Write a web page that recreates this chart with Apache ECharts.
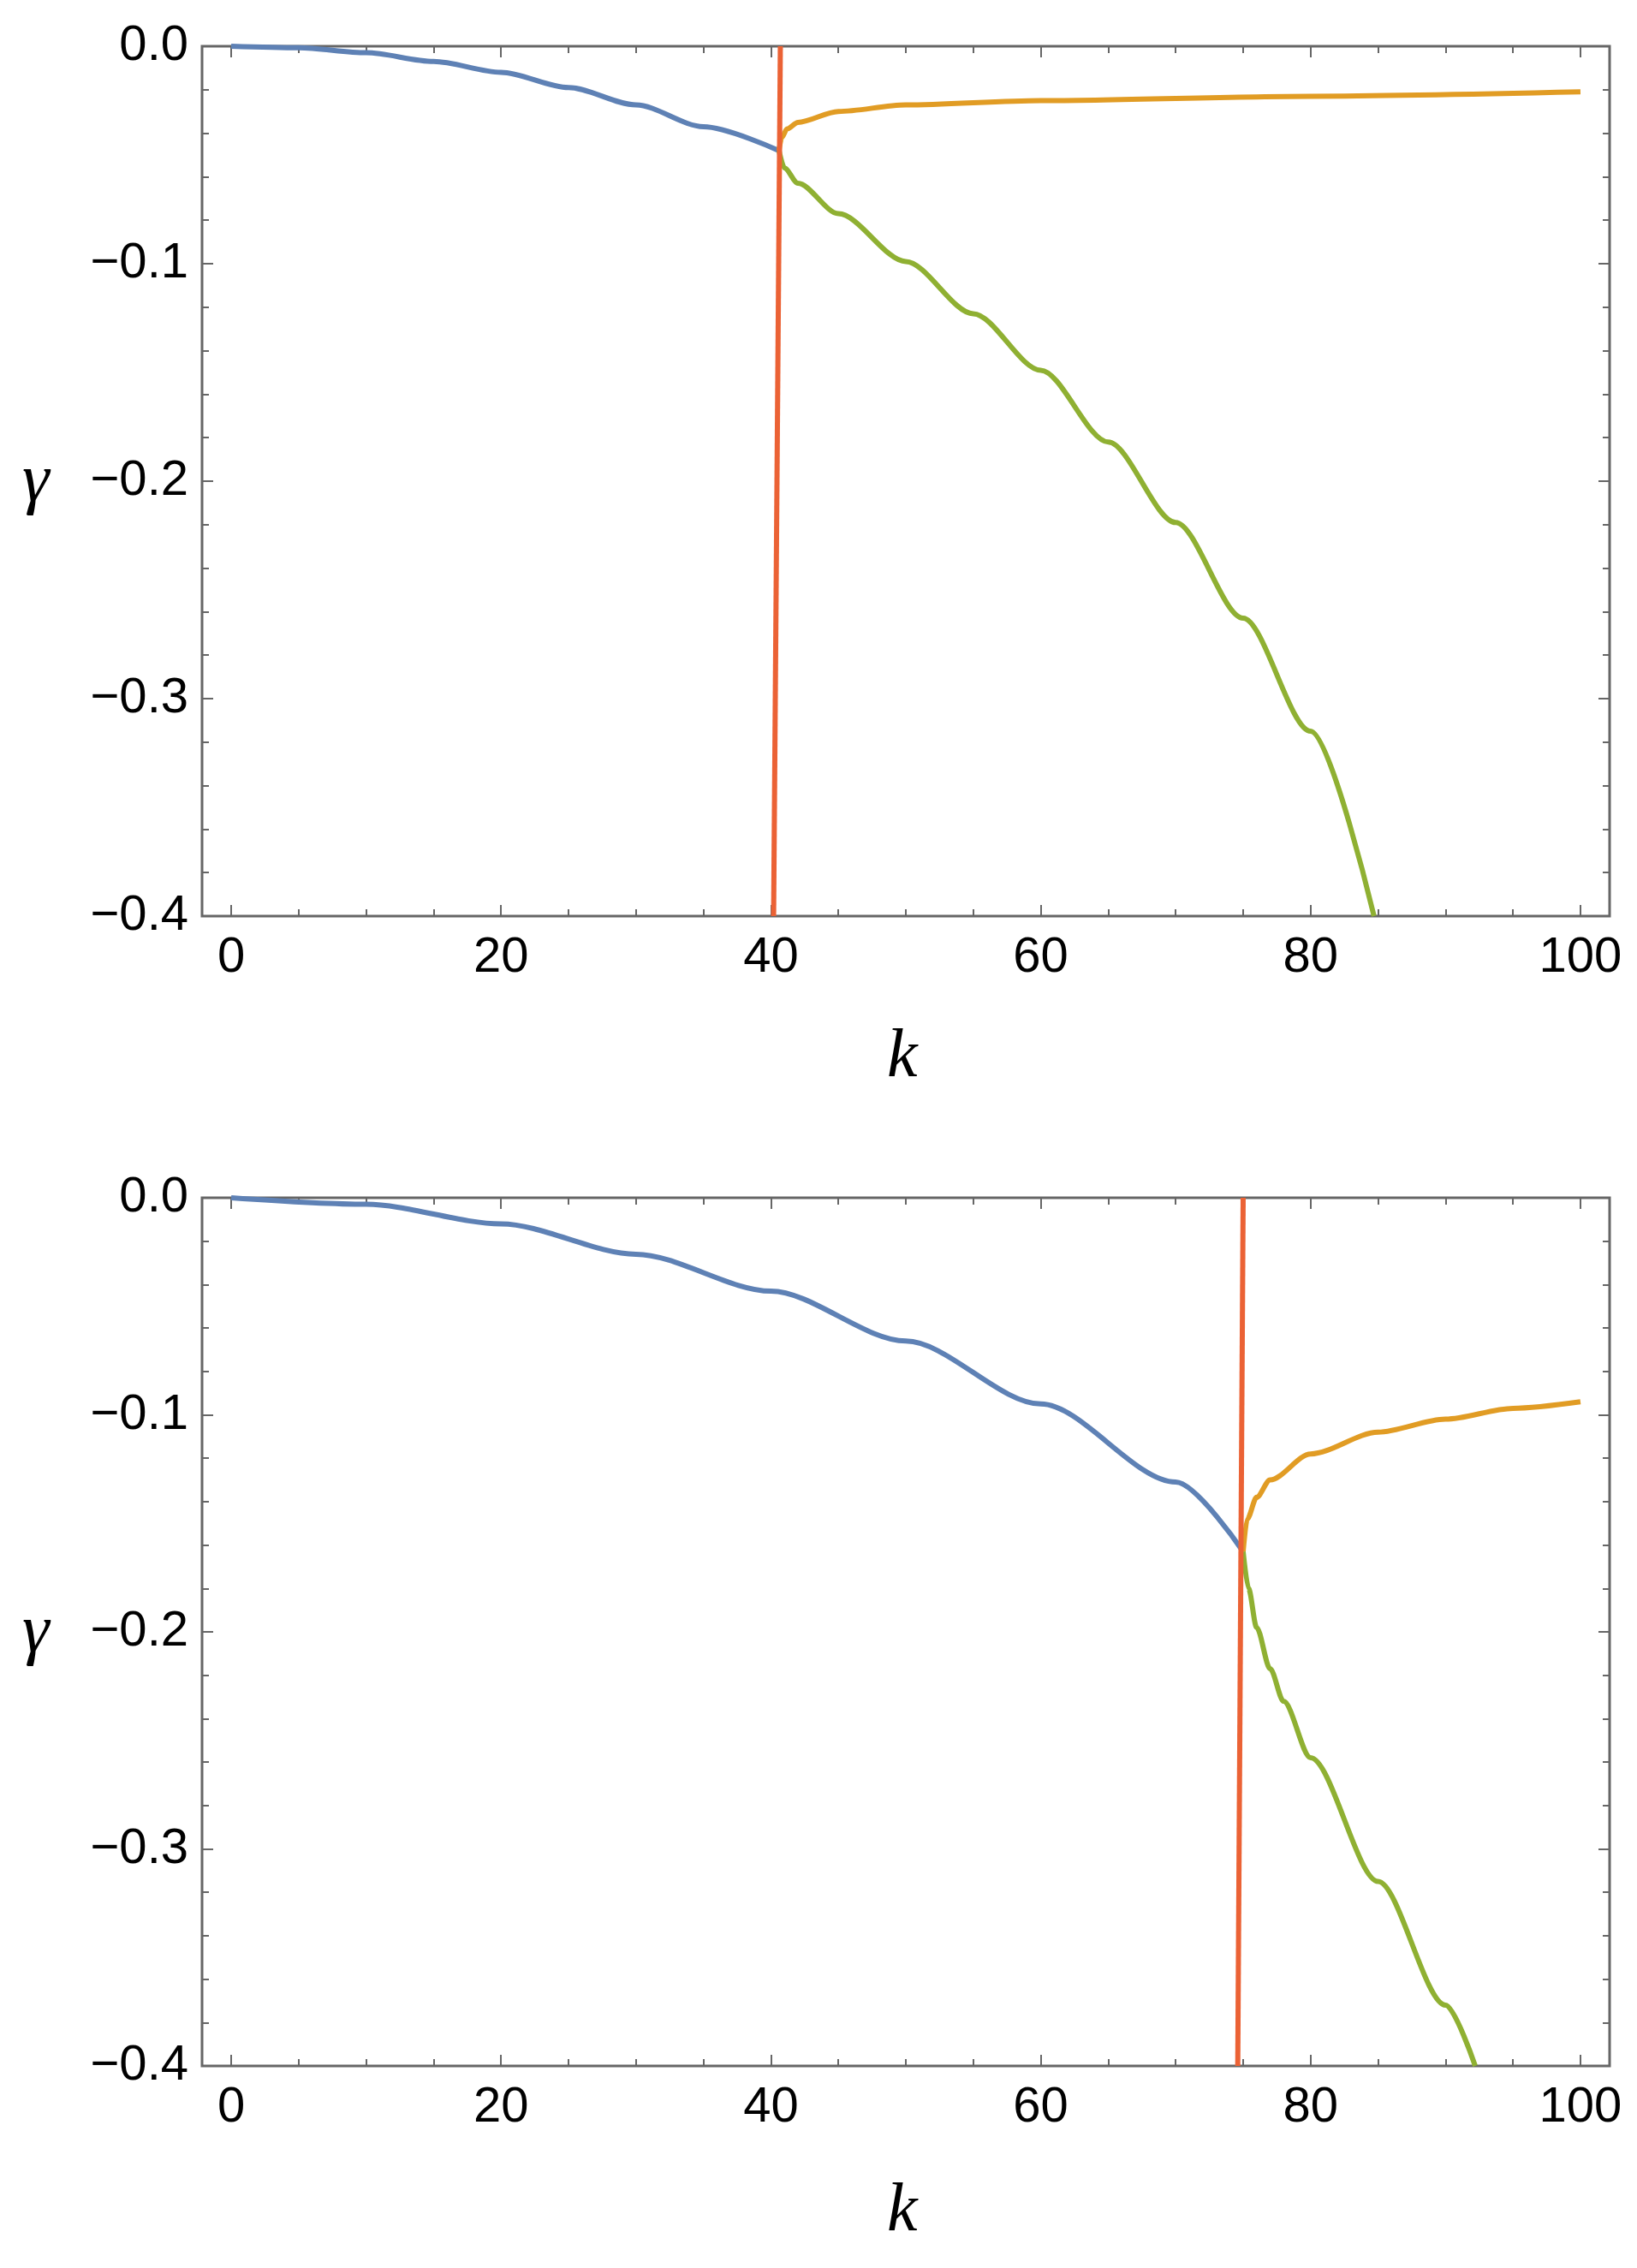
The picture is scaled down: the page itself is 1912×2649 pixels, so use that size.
<!DOCTYPE html>
<html>
<head>
<meta charset="utf-8">
<script src="https://cdn.jsdelivr.net/npm/echarts@6/dist/echarts.min.js"></script>
<style>html,body{margin:0;padding:0;background:#fff}#chart{width:1912px;height:2649px}</style>
</head>
<body>
<div id="chart"></div>
<script>
// top panel
const blueTop = [[0,0],[5,-0.0007],[10,-0.003],[15,-0.007],[20,-0.012],[25,-0.019],[30,-0.027],[35,-0.037],[40.6,-0.048]];
const orangeTop = [[40.6,-0.048],[40.8,-0.042],[41.2,-0.038],[42,-0.035],[45,-0.030],[50,-0.027],[60,-0.025],[80,-0.023],[100,-0.021]];
const greenTop = [[40.6,-0.048],[41,-0.056],[42,-0.063],[45,-0.077],[50,-0.099],[55,-0.123],[60,-0.149],[65,-0.182],[70,-0.219],[75,-0.263],[80,-0.315],[84.7,-0.4]];
const redTop = [[40.2,-0.4],[40.7,0]];
// bottom panel
const blueBot = [[0,0],[10,-0.003],[20,-0.012],[30,-0.026],[40,-0.043],[50,-0.066],[60,-0.095],[70,-0.131],[75,-0.163]];
const orangeBot = [[75,-0.163],[75.3,-0.148],[76,-0.138],[77,-0.130],[80,-0.118],[85,-0.108],[90,-0.102],[95,-0.097],[100,-0.094]];
const greenBot = [[75,-0.163],[75.4,-0.18],[76,-0.198],[77,-0.217],[78,-0.232],[80,-0.258],[85,-0.315],[90,-0.372],[92.2,-0.4]];
const redBot = [[74.6,-0.4],[75.0,0]];

const xMajor = [0,20,40,60,80,100];
const xMinor = [5,10,15,25,30,35,45,50,55,65,70,75,85,90,95];
const yMajor = [0,-0.1,-0.2,-0.3,-0.4];
const yMinor = [-0.02,-0.04,-0.06,-0.08,-0.12,-0.14,-0.16,-0.18,-0.22,-0.24,-0.26,-0.28,-0.32,-0.34,-0.36,-0.38];

const colors = {blue:'#5E81B5', orange:'#E19C24', green:'#8FB032', red:'#EB6235'};
const lab = {color:'#000', fontFamily:'Liberation Sans', fontSize:58};
const tickCol = '#666';

const grids = [
  {left:236, top:54, width:1644, height:1016, show:true, borderColor:tickCol, borderWidth:3, backgroundColor:'#fff'},
  {left:236, top:1399, width:1644, height:1014, show:true, borderColor:tickCol, borderWidth:3, backgroundColor:'#fff'}
];

const xAxes = [], yAxes = [];
grids.forEach((g, gi) => {
  [['bottom',true],['top',false]].forEach(([pos, labels]) => {
    [[xMajor,13,labels],[xMinor,8,false]].forEach(([vals,len,showLab]) => {
      xAxes.push({gridIndex:gi, type:'value', min:-2.16, max:102.16, position:pos,
        axisLine:{show:false, onZero:false}, splitLine:{show:false},
        axisTick:{show:true, inside:true, length:len, customValues:vals, lineStyle:{color:tickCol, width:2}},
        axisLabel:{show:showLab, customValues:xMajor, margin:20, ...lab}});
    });
  });
  [['left',true],['right',false]].forEach(([pos, labels]) => {
    [[yMajor,13,labels],[yMinor,8,false]].forEach(([vals,len,showLab]) => {
      yAxes.push({gridIndex:gi, type:'value', min:-0.4, max:0, position:pos,
        axisLine:{show:false, onZero:false}, splitLine:{show:false},
        axisTick:{show:true, inside:true, length:len, customValues:vals, lineStyle:{color:tickCol, width:2}},
        axisLabel:{show:showLab, customValues:yMajor, margin:16, ...lab,
          formatter: v => (v < 0 ? '\u2212' + Math.abs(v).toFixed(1) : v.toFixed(1))}});
    });
  });
});

function line(data, color, gi) {
  return {type:'line', data, xAxisIndex:gi*4, yAxisIndex:gi*4, smooth:0.3, smoothMonotone:'x', showSymbol:false,
    lineStyle:{color, width:6}, z:color===colors.red?5:3, animation:false};
}

const series = [
  line(blueTop, colors.blue, 0), line(orangeTop, colors.orange, 0), line(greenTop, colors.green, 0), line(redTop, colors.red, 0),
  line(blueBot, colors.blue, 1), line(orangeBot, colors.orange, 1), line(greenBot, colors.green, 1), line(redBot, colors.red, 1)
];

const titleStyle = {fill:'#000', fontFamily:'Liberation Serif', fontStyle:'italic', fontSize:80};
const graphic = [
  {type:'text', left:1036, top:1196, style:{text:'k', ...titleStyle}},
  {type:'text', left:26, top:524, style:{text:'\u03b3', ...titleStyle}},
  {type:'text', left:1036, top:2544, style:{text:'k', ...titleStyle}},
  {type:'text', left:26, top:1868, style:{text:'\u03b3', ...titleStyle}}
];

const chart = echarts.init(document.getElementById('chart'));
chart.setOption({animation:false, grid:grids, xAxis:xAxes, yAxis:yAxes, series, graphic});
</script>
</body>
</html>
